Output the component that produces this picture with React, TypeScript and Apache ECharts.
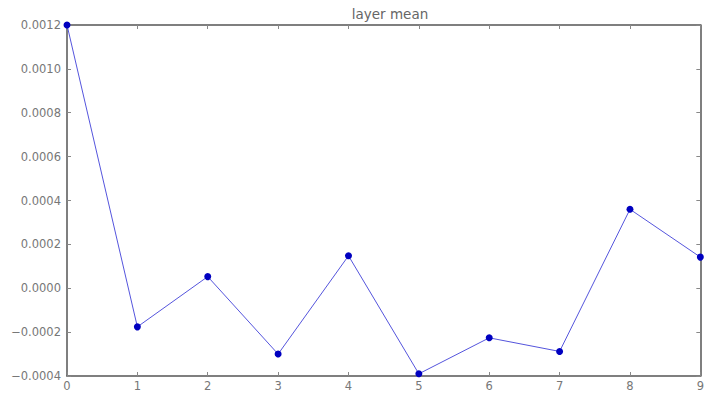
import React, { useEffect, useRef } from "react";
import * as echarts from "echarts";

const categories = ["0", "1", "2", "3", "4", "5", "6", "7", "8", "9"];
const layerMean = [0.0012, -0.000176, 0.000053, -0.0003, 0.000148, -0.00039, -0.000226, -0.000288, 0.00036, 0.000142];
const yTicks = { min: -0.0004, max: 0.0012, interval: 0.0002 };

export default function App() {
  const ref = useRef<HTMLDivElement>(null);
  useEffect(() => {
    if (!ref.current) return;
    const chart = echarts.init(ref.current, null, { renderer: "svg" });
    const axisLine = { show: true, onZero: false, lineStyle: { color: "#555", width: 1.5 } };
    const tick = { show: true, inside: true, length: 4, lineStyle: { color: "#888" } };
    const label = { color: "#777", fontSize: 11.5, fontFamily: "DejaVu Sans" };
    const data = layerMean.map((v, i) => [i, v]);
    chart.setOption({
      animation: false,
      backgroundColor: "#fff",
      title: {
        text: "layer mean",
        left: 385,
        textAlign: "center",
        top: 2,
        textStyle: { fontSize: 13.5, fontWeight: "normal", color: "#666", fontFamily: "DejaVu Sans" },
      },
      grid: { left: 67, right: 3, top: 25, bottom: 17 },
      xAxis: [
        {
          type: "value",
          min: 0,
          max: 9,
          interval: 1,
          position: "bottom",
          axisLine,
          axisTick: tick,
          axisLabel: { ...label, margin: 4, formatter: (v: number) => categories[v] ?? "" },
          splitLine: { show: false },
        },
        {
          type: "value",
          min: 0,
          max: 9,
          interval: 1,
          position: "top",
          axisLine,
          axisTick: tick,
          axisLabel: { show: false },
          splitLine: { show: false },
        },
      ],
      yAxis: [
        {
          type: "value",
          min: yTicks.min,
          max: yTicks.max,
          interval: yTicks.interval,
          position: "left",
          axisLine,
          axisTick: tick,
          axisLabel: { ...label, margin: 6, formatter: (v: number) => v.toFixed(4).replace("-", "\u2212") },
          splitLine: { show: false },
        },
        {
          type: "value",
          min: yTicks.min,
          max: yTicks.max,
          interval: yTicks.interval,
          position: "right",
          axisLine,
          axisTick: tick,
          axisLabel: { show: false },
          splitLine: { show: false },
        },
      ],
      series: [
        {
          type: "line",
          data,
          symbol: "circle",
          symbolSize: 7,
          lineStyle: { color: "#5555dd", width: 1 },
          itemStyle: { color: "#0000c0" },
          clip: false,
        },
      ],
    });
    return () => chart.dispose();
  }, []);
  return <div ref={ref} style={{ width: 707, height: 393, position: "absolute", left: 0, top: 0 }} />;
}
